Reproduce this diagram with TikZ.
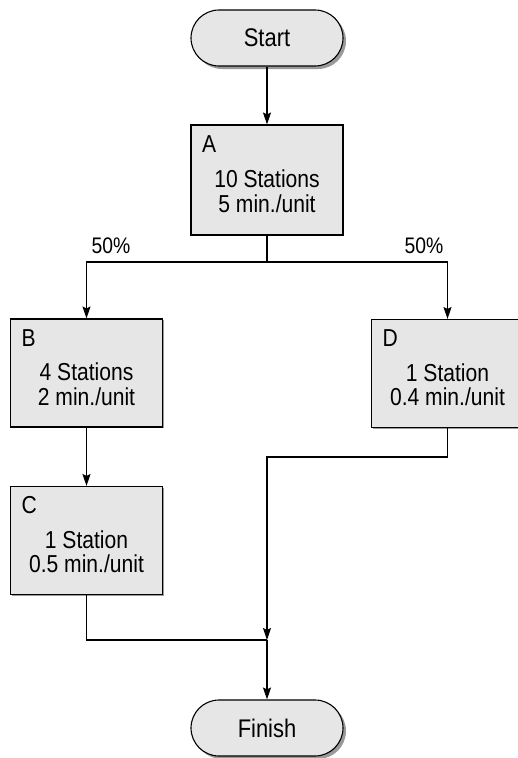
\documentclass[tikz,border=0pt]{standalone}
\usepackage{fontspec}
\setmainfont{Liberation Sans}[FakeStretch=0.86]
\usetikzlibrary{arrows.meta,shapes.misc,shadows}
\definecolor{boxgray}{HTML}{E6E6E6}
\definecolor{shadowgray}{HTML}{9A9A9A}
\begin{document}
\begin{tikzpicture}[x=1pt,y=-1pt,line width=1.1pt,
  txt/.style={font=\fontsize{24.5}{24.5}\selectfont},
  term/.style={rounded rectangle,draw,fill=boxgray,minimum width=152pt,minimum height=56pt,inner sep=0pt,
    font=\fontsize{25.5}{26}\selectfont,
    drop shadow={shadow xshift=3pt,shadow yshift=-3pt,fill=shadowgray,opacity=1}},
  box/.style={rectangle,draw,fill=boxgray,minimum width=152pt,minimum height=108pt,inner sep=0pt,
    drop shadow={shadow xshift=1.2pt,shadow yshift=-1.2pt,fill=shadowgray,opacity=1}},
  body/.style={txt,align=center,inner sep=0pt},
  tag/.style={txt,anchor=base west,inner sep=0pt},
  pct/.style={font=\fontsize{22.5}{24}\selectfont,anchor=base,inner sep=0pt},
  arr/.style={-{Stealth[length=12pt,width=8pt,inset=2pt]}}]
\useasboundingbox (0,0) rectangle (517,758);

\node[term] (S) at (267,38) {Start};
\node[box,minimum height=110pt] (A) at (267,180) {};
\node[box] (B) at (86.5,373) {};
\node[box] (C) at (86.5,540.5) {};
\node[box] (D) at (447.5,373.5) {};
\node[term] (F) at (267,728) {Finish};

\node[tag] (At) at ([shift={(11,28)}]A.north west) {A};
\node[tag] (Bt) at ([shift={(11,28)}]B.north west) {B};
\node[tag] (Ct) at ([shift={(11,28)}]C.north west) {C};
\node[tag] (Dt) at ([shift={(11,28)}]D.north west) {D};

\node[body] (Ab) at ([shift={(0,11)}]A.center) {10 Stations\\5 min./unit};
\node[body] (Bb) at ([shift={(0,11)}]B.center) {4 Stations\\2 min./unit};
\node[body] (Cb) at ([shift={(0,11)}]C.center) {1 Station\\0.5 min./unit};
\node[body] (Db) at ([shift={(0,11)}]D.center) {1 Station\\0.4 min./unit};

\node[pct] (p1) at (111,253) {50\%};
\node[pct] (p2) at (424,253) {50\%};

\coordinate (split) at (267,262);
\coordinate (dm) at (267,457);
\coordinate (join) at (267,640);

\draw[arr] (S.south) -- (A.north);
\draw (A.south) -- (split);
\draw[arr] (split) -| (B.north);
\draw[arr] (split) -| (D.north);
\draw[arr] (B.south) -- (C.north);
\draw[arr] (D.south) |- (dm) -- (join);
\draw (C.south) |- (join);
\draw[arr] (join) -- (F.north);
\end{tikzpicture}
\end{document}
